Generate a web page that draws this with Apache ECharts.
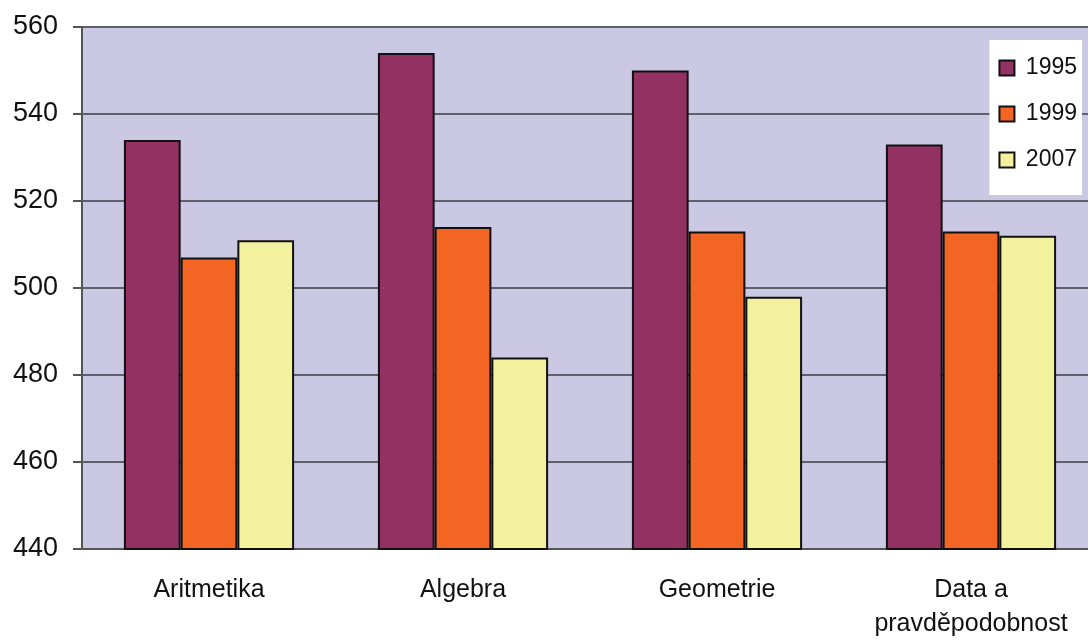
<!DOCTYPE html>
<html>
<head>
<meta charset="utf-8">
<script src="https://cdn.jsdelivr.net/npm/echarts@6/dist/echarts.min.js"></script>
<style>
  html, body { margin: 0; padding: 0; background: #ffffff; }
  #chart { width: 1088px; height: 642px; }
</style>
</head>
<body>
<div id="chart"></div>
<script>
// Mathematics content areas
const categories = ['Aritmetika', 'Algebra', 'Geometrie', 'Data a\npravděpodobnost'];
const years = ['1995', '1999', '2007'];
const scores1995 = [534, 554, 550, 533];
const scores1999 = [507, 514, 513, 513];
const scores2007 = [511, 484, 498, 512];
const yTicks = [440, 460, 480, 500, 520, 540, 560];

const colors = ['#933162', '#F26522', '#F3F09E'];
const seriesValues = [scores1995, scores1999, scores2007];
const font = 'Liberation Sans, Arial, sans-serif';

const chart = echarts.init(document.getElementById('chart'), null, { renderer: 'canvas' });

chart.setOption({
  animation: false,
  backgroundColor: '#ffffff',
  grid: {
    left: 82, right: -10, top: 27, bottom: 93,
    outerBoundsMode: 'none',
    containLabel: false,
    show: true, backgroundColor: '#CBC8E3', borderWidth: 0
  },
  legend: {
    orient: 'vertical',
    right: 6, top: 40,
    backgroundColor: '#ffffff',
    padding: [16, 5, 23, 9],
    itemWidth: 15, itemHeight: 15,
    itemGap: 22,
    icon: 'rect',
    formatter: ' {name}',
    textStyle: { fontFamily: font, fontSize: 23, color: '#111', lineHeight: 24 },
    data: years
  },
  xAxis: {
    type: 'category',
    data: categories,
    axisLine: { show: true, lineStyle: { color: '#555', width: 2 } },
    axisTick: { show: false },
    axisLabel: {
      margin: 24,
      fontFamily: font,
      fontSize: 25, color: '#111', lineHeight: 34
    }
  },
  yAxis: {
    type: 'value',
    min: yTicks[0], max: yTicks[yTicks.length - 1], interval: 20,
    axisLine: { show: true, lineStyle: { color: '#555', width: 2 } },
    axisTick: { show: true, length: 9, lineStyle: { color: '#555', width: 2 } },
    splitLine: { show: true, lineStyle: { color: '#5f5f6e', width: 2 } },
    axisLabel: {
      margin: 24,
      fontFamily: font,
      fontSize: 27, color: '#111'
    }
  },
  series: years.map((y, i) => ({
    name: y,
    type: 'bar',
    data: seriesValues[i],
    barGap: '0%',
    barCategoryGap: '33%',
    itemStyle: { color: colors[i], borderColor: '#111', borderWidth: 2 }
  }))
});
</script>
</body>
</html>
